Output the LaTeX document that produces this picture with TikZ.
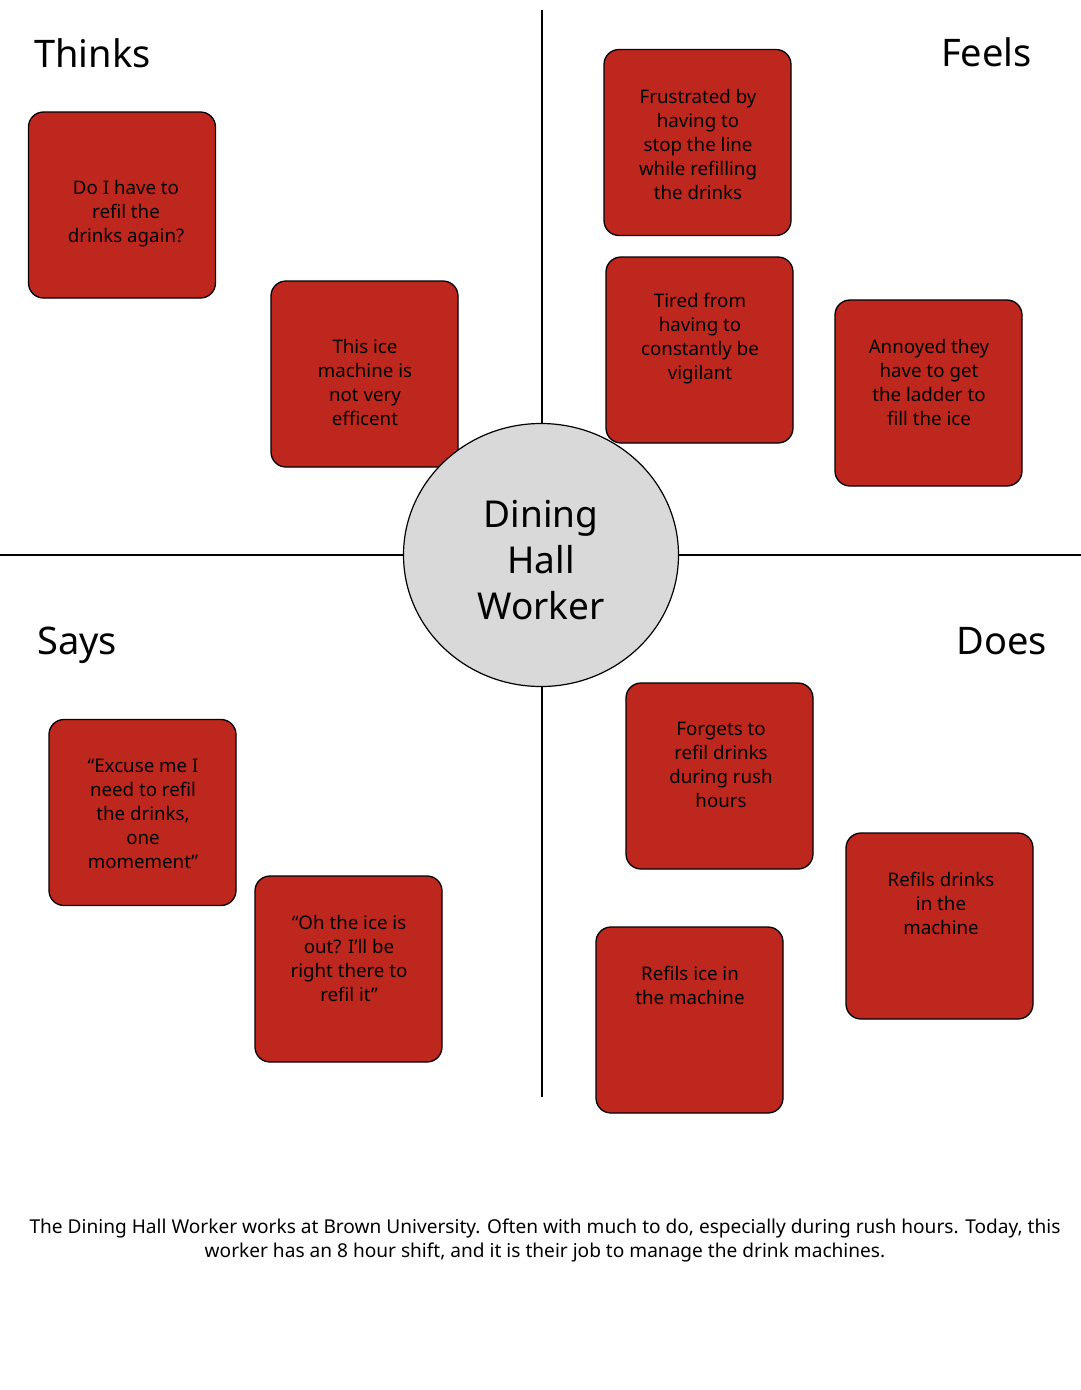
\documentclass[tikz,border=0pt]{standalone}
\usepackage{fontspec}
\usetikzlibrary{shapes.geometric}
\setmainfont{Noto Sans}
\definecolor{boxred}{HTML}{BE271D}
\definecolor{circgray}{HTML}{D9D9D9}
\begin{document}
\begin{tikzpicture}[x=1pt,y=-1pt,
  card/.style={draw=black, fill=boxred, rounded corners=15pt, line width=1.3pt,
    minimum width=187pt, minimum height=186pt, inner sep=0pt},
  cardtext/.style={align=center, inner sep=0pt, font=\fontsize{18.7}{24}\selectfont},
  captext/.style={align=center, inner sep=0pt, font=\fontsize{19.1}{24}\selectfont},
  title/.style={inner sep=0pt, font=\fontsize{38}{46}\selectfont},
  axis/.style={draw=black, line width=1.3pt},
  hub/.style={draw=black, fill=circgray, ellipse, line width=1.2pt, inner sep=0pt,
    minimum width=275pt, minimum height=263pt},
  hubtext/.style={align=center, inner sep=0pt, font=\fontsize{37}{46}\selectfont}]
\useasboundingbox[fill=white] (0,0) rectangle (1081,1390);
% axes
\coordinate (vtop) at (542,10);
\coordinate (vbot) at (542,1097);
\coordinate (hleft) at (0,555);
\coordinate (hright) at (1081,555);
\draw[axis] (vtop) -- (vbot);
\draw[axis] (hleft) -- (hright);
% titles
\node[title, anchor=base west] (thinks) at (34,67) {Thinks};
\node[title, anchor=base east] (feels) at (1032,66) {Feels};
\node[title, anchor=base west] (says) at (37,654) {Says};
\node[title, anchor=base east] (does) at (1047,654) {Does};
% cards
\node[card] (c1) at (122,205) {};
\node[cardtext] (t1) at (126,214) {Do I have to\\refil the\\drinks again?};
\node[card] (c2) at (364.5,374) {};
\node[cardtext] (t2) at (365,382) {This ice\\machine is\\not very\\efficent};
\node[card] (c3) at (697.5,142.5) {};
\node[cardtext] (t3) at (698,144) {Frustrated by\\having to\\stop the line\\while refilling\\the drinks};
\node[card] (c4) at (699.5,350) {};
\node[cardtext] (t4) at (700,339) {Tired from\\having to\\constantly be\\vigilant};
\node[card] (c5) at (928.5,393) {};
\node[cardtext] (t5) at (929,382) {Annoyed they\\have to get\\the ladder to\\fill the ice};
\node[card] (c6) at (142.5,812.5) {};
\node[cardtext] (t6) at (143,814) {“Excuse me I\\need to refil\\the drinks,\\one\\momement”};
\node[card] (c7) at (348.5,969) {};
\node[cardtext] (t7) at (349,958) {“Oh the ice is\\out? I’ll be\\right there to\\refil it”};
\node[card] (c8) at (719.5,776) {};
\node[cardtext] (t8) at (721,765) {Forgets to\\refil drinks\\during rush\\hours};
\node[card] (c9) at (939.5,926) {};
\node[cardtext] (t9) at (941,903) {Refils drinks\\in the\\machine};
\node[card] (c10) at (689.5,1020) {};
\node[cardtext] (t10) at (690,985) {Refils ice in\\the machine};
% hub
\node[hub] (hubnode) at (541,555) {};
\node[hubtext] (hublabel) at (541,560) {Dining\\Hall\\Worker};
% caption
\node[captext] (caption) at (545,1240) {The Dining Hall Worker works at Brown University. Often with much to do, especially during rush hours. Today, this\\worker has an 8 hour shift, and it is their job to manage the drink machines.};
\end{tikzpicture}
\end{document}
